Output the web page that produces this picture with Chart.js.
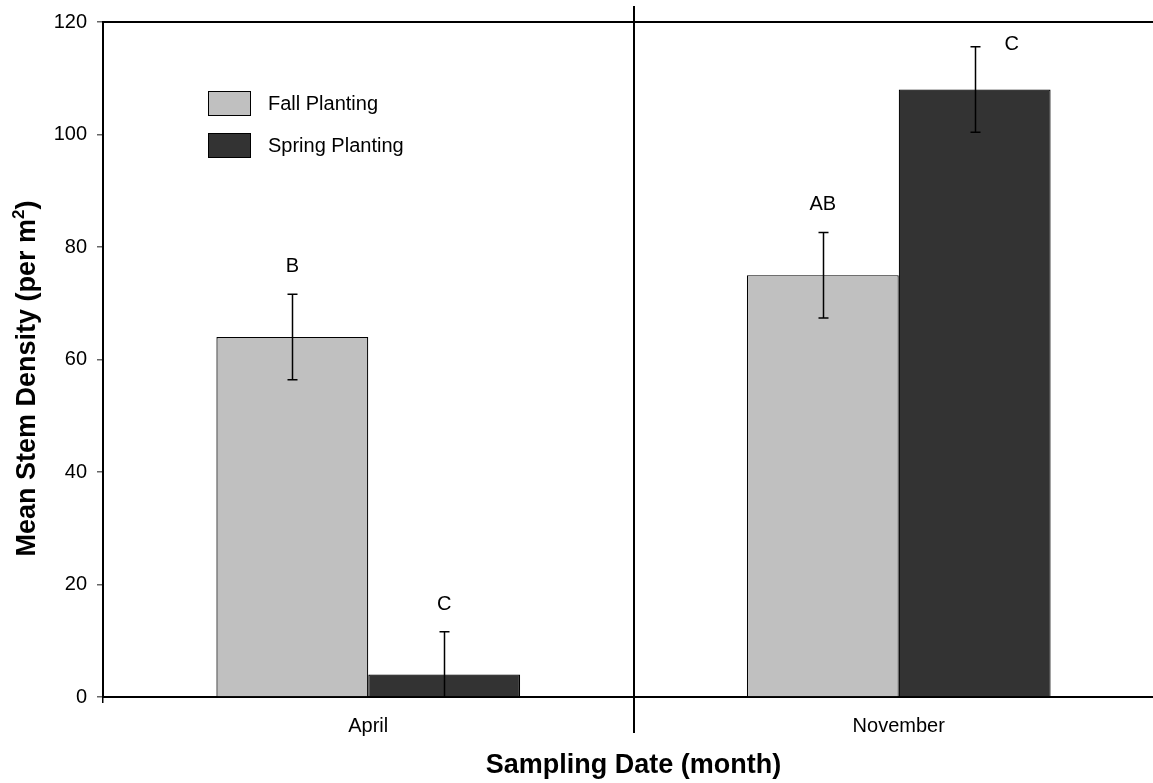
<!DOCTYPE html>
<html>
<head>
<meta charset="utf-8">
<script src="https://cdn.jsdelivr.net/npm/chart.js@4.4.1/dist/chart.umd.min.js"></script>
<style>
  html, body { margin: 0; padding: 0; background: #ffffff; overflow: hidden; }
  #wrap { width: 1200px; height: 783px; }
</style>
</head>
<body>
<div id="wrap"><canvas id="chart" width="1200" height="783"></canvas></div>
<script>
// Sampling months and mean stem densities (per m²) with standard errors
const months = ['April', 'November'];
const fallPlanting = [64, 75];
const springPlanting = [4, 108];
const fallError = [7.6, 7.6];
const springError = [7.6, 7.6];
// Significance groupings printed above each bar
const fallLetters = ['B', 'AB'];
const springLetters = ['C', 'C'];
const yTickValues = [0, 20, 40, 60, 80, 100, 120];
const yTitleParts = ['Mean Stem Density (per m', '2', ')'];

const FONT = "'Liberation Sans', Arial, Helvetica, sans-serif";

// Whisker bars (lower whisker clipped at the axis)
const errorBarPlugin = {
  id: 'errorBars',
  afterDatasetsDraw(chart) {
    const ctx = chart.ctx;
    const y = chart.scales.y;
    ctx.save();
    ctx.strokeStyle = '#000';
    ctx.lineWidth = 1.5;
    chart.data.datasets.forEach((ds, di) => {
      const meta = chart.getDatasetMeta(di);
      meta.data.forEach((bar, i) => {
        const v = ds.data[i], e = ds.errors[i];
        const top = y.getPixelForValue(v + e);
        const lowVal = v - e;
        const bot = y.getPixelForValue(Math.max(lowVal, 0));
        const x = Math.round(bar.x) + 0.5;
        ctx.beginPath();
        ctx.moveTo(x, top);
        ctx.lineTo(x, bot);
        ctx.moveTo(x - 5, top);
        ctx.lineTo(x + 5, top);
        if (lowVal >= 0) {
          ctx.moveTo(x - 5, bot);
          ctx.lineTo(x + 5, bot);
        }
        ctx.stroke();
      });
    });
    ctx.restore();
  }
};

// Grouping letters above the whiskers
const letterPlugin = {
  id: 'letters',
  afterDatasetsDraw(chart) {
    const ctx = chart.ctx;
    const y = chart.scales.y;
    const area = chart.chartArea;
    ctx.save();
    ctx.fillStyle = '#000';
    ctx.font = '20px ' + FONT;
    ctx.textAlign = 'center';
    ctx.textBaseline = 'middle';
    chart.data.datasets.forEach((ds, di) => {
      const meta = chart.getDatasetMeta(di);
      meta.data.forEach((bar, i) => {
        const top = y.getPixelForValue(ds.data[i] + ds.errors[i]);
        let lx = bar.x, ly = top - 27.5;
        if (ly - 10 < area.top) {
          // no room above: set beside the whisker cap
          lx = bar.x + 37;
          ly = top - 2.5;
        }
        ctx.fillText(ds.letters[i], lx, ly);
      });
    });
    ctx.restore();
  }
};

// Top frame line and the divider between sampling months
const framePlugin = {
  id: 'frame',
  afterDraw(chart) {
    const ctx = chart.ctx;
    const a = chart.chartArea;
    const xs = chart.scales.x;
    ctx.save();
    ctx.strokeStyle = '#000';
    ctx.lineWidth = 2;
    ctx.beginPath();
    ctx.moveTo(a.left, a.top);
    ctx.lineTo(chart.width, a.top);
    const mid = Math.round((xs.getPixelForValue(0) + xs.getPixelForValue(1)) / 2);
    ctx.moveTo(mid, a.top - 16);
    ctx.lineTo(mid, a.bottom + 36);
    ctx.stroke();
    ctx.restore();
  }
};

// Rotated y-axis title with a raised exponent
const yTitlePlugin = {
  id: 'yTitle',
  afterDraw(chart) {
    const ctx = chart.ctx;
    const a = chart.chartArea;
    const big = 'bold 27px ' + FONT, small = 'bold 17px ' + FONT;
    ctx.save();
    ctx.font = big;
    const w0 = ctx.measureText(yTitleParts[0]).width;
    const w2 = ctx.measureText(yTitleParts[2]).width;
    ctx.font = small;
    const w1 = ctx.measureText(yTitleParts[1]).width;
    const total = w0 + w1 + w2;
    ctx.translate(28, (a.top + a.bottom) / 2 + 19);
    ctx.rotate(-Math.PI / 2);
    ctx.fillStyle = '#000';
    ctx.textBaseline = 'middle';
    ctx.textAlign = 'left';
    let x = -total / 2;
    ctx.font = big;
    ctx.fillText(yTitleParts[0], x, 0);
    x += w0;
    ctx.font = small;
    ctx.fillText(yTitleParts[1], x, -9);
    x += w1;
    ctx.font = big;
    ctx.fillText(yTitleParts[2], x, 0);
    ctx.restore();
  }
};

// Legend box inside the plot
const legendPlugin = {
  id: 'boxLegend',
  afterDraw(chart) {
    const ctx = chart.ctx;
    const a = chart.chartArea;
    ctx.save();
    ctx.font = '20px ' + FONT;
    ctx.textAlign = 'left';
    ctx.textBaseline = 'middle';
    chart.data.datasets.forEach((ds, i) => {
      const bx = a.left + 105, by = a.top + 69 + i * 42;
      ctx.fillStyle = ds.backgroundColor;
      ctx.fillRect(bx, by, 43, 25);
      ctx.strokeStyle = '#000';
      ctx.lineWidth = 1;
      ctx.strokeRect(bx + 0.5, by + 0.5, 42, 24);
      ctx.fillStyle = '#000';
      ctx.fillText(ds.label, bx + 60, by + 13);
    });
    ctx.restore();
  }
};

new Chart(document.getElementById('chart'), {
  type: 'bar',
  data: {
    labels: months,
    datasets: [
      {
        label: 'Fall Planting',
        data: fallPlanting,
        errors: fallError,
        letters: fallLetters,
        backgroundColor: '#c0c0c0',
        borderColor: '#000',
        borderWidth: 1.2
      },
      {
        label: 'Spring Planting',
        data: springPlanting,
        errors: springError,
        letters: springLetters,
        backgroundColor: '#333333',
        borderColor: '#000',
        borderWidth: 1.2
      }
    ]
  },
  options: {
    responsive: false,
    animation: false,
    events: [],
    categoryPercentage: 0.5725,
    barPercentage: 1,
    layout: { padding: { top: 22, right: 36, left: 0, bottom: 0 } },
    plugins: {
      legend: { display: false },
      tooltip: { enabled: false },
      title: { display: false }
    },
    scales: {
      x: {
        grid: { offset: true, drawOnChartArea: false, drawTicks: true, tickLength: 6, color: '#000', lineWidth: 1.5 },
        border: { color: '#000', width: 2 },
        ticks: { color: '#000', font: { family: FONT, size: 20 }, padding: 11 },
        title: {
          display: true,
          text: 'Sampling Date (month)',
          color: '#000',
          font: { family: FONT, size: 27, weight: 'bold' },
          padding: { top: 0, bottom: 1 }
        },
        afterFit(scale) { scale.height = 86; }
      },
      y: {
        min: 0,
        max: 120,
        afterBuildTicks(scale) { scale.ticks = yTickValues.map(v => ({ value: v })); },
        grid: { drawOnChartArea: false, drawTicks: true, tickLength: 6, color: '#666', lineWidth: 1.5 },
        border: { color: '#000', width: 2 },
        ticks: { color: '#000', font: { family: FONT, size: 20 }, padding: 10 },
        title: { display: false },
        afterFit(scale) { scale.width = 103; }
      }
    }
  },
  plugins: [errorBarPlugin, letterPlugin, framePlugin, yTitlePlugin, legendPlugin]
});
</script>
</body>
</html>
